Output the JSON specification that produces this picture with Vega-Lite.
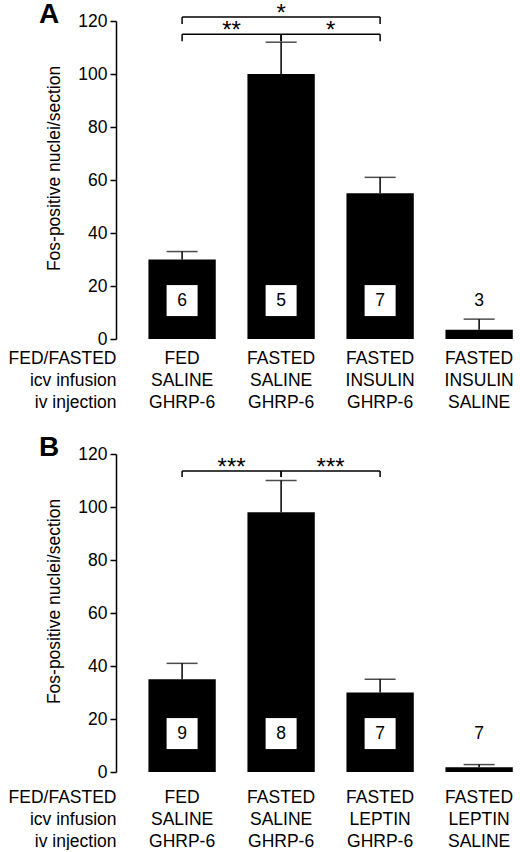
{
  "$schema": "https://vega.github.io/schema/vega-lite/v6.json",
  "padding": {"left": 8, "top": 1, "right": 0, "bottom": 0},
  "autosize": {"type": "pad"},
  "spacing": 115,
  "bounds": "flush",
  "config": {
    "font": "Liberation Sans",
    "view": {"stroke": null},
    "axis": {
      "grid": false,
      "labelColor": "black",
      "titleColor": "black",
      "domainColor": "black",
      "tickColor": "black",
      "labelFontSize": 17.5,
      "titleFontSize": 17.5,
      "titleFontWeight": "normal"
    },
    "title": {"color": "black", "fontSize": 28, "fontWeight": "bold"}
  },
  "datasets": {
    "a_bars": [
      {"group": "FED|SALINE|GHRP-6", "mean": 30, "upper": 33, "n": "6", "boxed": true},
      {"group": "FASTED|SALINE|GHRP-6", "mean": 100, "upper": 112, "n": "5", "boxed": true},
      {"group": "FASTED|INSULIN|GHRP-6", "mean": 55, "upper": 61, "n": "7", "boxed": true},
      {"group": "FASTED|INSULIN|SALINE", "mean": 3.5, "upper": 7.5, "n": "3", "boxed": false}
    ],
    "a_brackets": [
      {"from": "FED|SALINE|GHRP-6", "to": "FASTED|SALINE|GHRP-6", "level": 115, "stars": "**", "span": 1},
      {"from": "FASTED|SALINE|GHRP-6", "to": "FASTED|INSULIN|GHRP-6", "level": 115, "stars": "*", "span": 1},
      {"from": "FED|SALINE|GHRP-6", "to": "FASTED|INSULIN|GHRP-6", "level": 121.5, "stars": "*", "span": 2}
    ],
    "b_bars": [
      {"group": "FED|SALINE|GHRP-6", "mean": 35, "upper": 41, "n": "9", "boxed": true},
      {"group": "FASTED|SALINE|GHRP-6", "mean": 98, "upper": 110, "n": "8", "boxed": true},
      {"group": "FASTED|LEPTIN|GHRP-6", "mean": 30, "upper": 35, "n": "7", "boxed": true},
      {"group": "FASTED|LEPTIN|SALINE", "mean": 1.8, "upper": 2.8, "n": "7", "boxed": false}
    ],
    "b_brackets": [
      {"from": "FED|SALINE|GHRP-6", "to": "FASTED|SALINE|GHRP-6", "level": 113.6, "stars": "***", "span": 1},
      {"from": "FASTED|SALINE|GHRP-6", "to": "FASTED|LEPTIN|GHRP-6", "level": 113.6, "stars": "***", "span": 1}
    ]
  },
  "vconcat": [
    {
      "width": 400,
      "height": 318,
      "title": {"text": "A", "anchor": "start", "frame": "group", "dx": -77, "dy": 31},
      "layer": [
        {
          "data": {"name": "a_bars"},
          "mark": {"type": "bar", "color": "black"},
          "encoding": {
            "x": {
              "field": "group", "type": "nominal",
              "scale": {
                "domain": ["FED|SALINE|GHRP-6", "FASTED|SALINE|GHRP-6", "FASTED|INSULIN|GHRP-6", "FASTED|INSULIN|SALINE"],
                "paddingInner": 0.32, "paddingOuter": 0.18, "align": 0.91
              },
              "axis": {
                "title": ["FED/FASTED", "icv infusion", "iv injection"],
                "labelExpr": "split(datum.label, '|')",
                "labelAngle": 0, "domain": false, "ticks": false, "tickSize": 0,
                "labelPadding": 10, "labelLineHeight": 22, "labelBaseline": "top",
                "labelOverlap": false, "labelBound": false,
                "titleX": 0, "titleY": 10, "titleAlign": "right", "titleBaseline": "top",
                "titleLineHeight": 22
              }
            },
            "y": {
              "field": "mean", "type": "quantitative",
              "scale": {"domain": [0, 120]},
              "axis": {
                "title": "Fos-positive nuclei/section",
                "values": [0, 20, 40, 60, 80, 100, 120],
                "tickSize": 6, "tickWidth": 1.5, "domainWidth": 1.5,
                "labelPadding": 3, "titlePadding": 14, "titleY": 147
              }
            }
          }
        },
        {
          "data": {"name": "a_bars"},
          "mark": {"type": "rule", "color": "black", "strokeWidth": 1.5},
          "encoding": {
            "x": {"field": "group", "type": "nominal"},
            "y": {"field": "mean", "type": "quantitative"},
            "y2": {"field": "upper"}
          }
        },
        {
          "data": {"name": "a_bars"},
          "mark": {"type": "tick", "orient": "horizontal", "color": "black", "size": 31, "thickness": 1.5},
          "encoding": {
            "x": {"field": "group", "type": "nominal"},
            "y": {"field": "upper", "type": "quantitative"}
          }
        },
        {
          "data": {"name": "a_bars"},
          "transform": [{"filter": "datum.boxed"}],
          "mark": {"type": "square", "color": "white", "filled": true, "opacity": 1, "size": 961},
          "encoding": {
            "x": {"field": "group", "type": "nominal"},
            "y": {"datum": 14.5}
          }
        },
        {
          "data": {"name": "a_bars"},
          "mark": {"type": "text", "color": "black", "fontSize": 17.5, "baseline": "middle"},
          "encoding": {
            "x": {"field": "group", "type": "nominal"},
            "y": {"datum": 14.5},
            "text": {"field": "n"}
          }
        },
        {
          "data": {"name": "a_brackets"},
          "mark": {"type": "rule", "color": "black", "strokeWidth": 1.5},
          "encoding": {
            "x": {"field": "from", "type": "nominal"},
            "x2": {"field": "to"},
            "y": {"field": "level", "type": "quantitative"}
          }
        },
        {
          "data": {"name": "a_brackets"},
          "mark": {"type": "rule", "color": "black", "strokeWidth": 1.5, "y2Offset": 7},
          "encoding": {
            "x": {"field": "from", "type": "nominal"},
            "y": {"field": "level", "type": "quantitative"},
            "y2": {"field": "level"}
          }
        },
        {
          "data": {"name": "a_brackets"},
          "mark": {"type": "rule", "color": "black", "strokeWidth": 1.5, "y2Offset": 7},
          "encoding": {
            "x": {"field": "to", "type": "nominal"},
            "y": {"field": "level", "type": "quantitative"},
            "y2": {"field": "level"}
          }
        },
        {
          "data": {"name": "a_brackets"},
          "transform": [{"filter": "datum.span == 1"}],
          "mark": {"type": "text", "color": "black", "fontSize": 24, "baseline": "alphabetic", "dx": 49.5, "dy": 4},
          "encoding": {
            "x": {"field": "from", "type": "nominal"},
            "y": {"field": "level", "type": "quantitative"},
            "text": {"field": "stars"}
          }
        },
        {
          "data": {"name": "a_brackets"},
          "transform": [{"filter": "datum.span == 2"}],
          "mark": {"type": "text", "color": "black", "fontSize": 24, "baseline": "alphabetic", "dx": 99, "dy": 4},
          "encoding": {
            "x": {"field": "from", "type": "nominal"},
            "y": {"field": "level", "type": "quantitative"},
            "text": {"field": "stars"}
          }
        }
      ]
    },
    {
      "width": 400,
      "height": 318,
      "title": {"text": "B", "anchor": "start", "frame": "group", "dx": -77, "dy": 21},
      "layer": [
        {
          "data": {"name": "b_bars"},
          "mark": {"type": "bar", "color": "black"},
          "encoding": {
            "x": {
              "field": "group", "type": "nominal",
              "scale": {
                "domain": ["FED|SALINE|GHRP-6", "FASTED|SALINE|GHRP-6", "FASTED|LEPTIN|GHRP-6", "FASTED|LEPTIN|SALINE"],
                "paddingInner": 0.32, "paddingOuter": 0.18, "align": 0.91
              },
              "axis": {
                "title": ["FED/FASTED", "icv infusion", "iv injection"],
                "labelExpr": "split(datum.label, '|')",
                "labelAngle": 0, "domain": false, "ticks": false, "tickSize": 0,
                "labelPadding": 16, "labelLineHeight": 22, "labelBaseline": "top",
                "labelOverlap": false, "labelBound": false,
                "titleX": 0, "titleY": 16, "titleAlign": "right", "titleBaseline": "top",
                "titleLineHeight": 22
              }
            },
            "y": {
              "field": "mean", "type": "quantitative",
              "scale": {"domain": [0, 120]},
              "axis": {
                "title": "Fos-positive nuclei/section",
                "values": [0, 20, 40, 60, 80, 100, 120],
                "tickSize": 6, "tickWidth": 1.5, "domainWidth": 1.5,
                "labelPadding": 3, "titlePadding": 14, "titleY": 147
              }
            }
          }
        },
        {
          "data": {"name": "b_bars"},
          "mark": {"type": "rule", "color": "black", "strokeWidth": 1.5},
          "encoding": {
            "x": {"field": "group", "type": "nominal"},
            "y": {"field": "mean", "type": "quantitative"},
            "y2": {"field": "upper"}
          }
        },
        {
          "data": {"name": "b_bars"},
          "mark": {"type": "tick", "orient": "horizontal", "color": "black", "size": 31, "thickness": 1.5},
          "encoding": {
            "x": {"field": "group", "type": "nominal"},
            "y": {"field": "upper", "type": "quantitative"}
          }
        },
        {
          "data": {"name": "b_bars"},
          "transform": [{"filter": "datum.boxed"}],
          "mark": {"type": "square", "color": "white", "filled": true, "opacity": 1, "size": 961},
          "encoding": {
            "x": {"field": "group", "type": "nominal"},
            "y": {"datum": 14.5}
          }
        },
        {
          "data": {"name": "b_bars"},
          "mark": {"type": "text", "color": "black", "fontSize": 17.5, "baseline": "middle"},
          "encoding": {
            "x": {"field": "group", "type": "nominal"},
            "y": {"datum": 14.5},
            "text": {"field": "n"}
          }
        },
        {
          "data": {"name": "b_brackets"},
          "mark": {"type": "rule", "color": "black", "strokeWidth": 1.5},
          "encoding": {
            "x": {"field": "from", "type": "nominal"},
            "x2": {"field": "to"},
            "y": {"field": "level", "type": "quantitative"}
          }
        },
        {
          "data": {"name": "b_brackets"},
          "mark": {"type": "rule", "color": "black", "strokeWidth": 1.5, "y2Offset": 6},
          "encoding": {
            "x": {"field": "from", "type": "nominal"},
            "y": {"field": "level", "type": "quantitative"},
            "y2": {"field": "level"}
          }
        },
        {
          "data": {"name": "b_brackets"},
          "mark": {"type": "rule", "color": "black", "strokeWidth": 1.5, "y2Offset": 6},
          "encoding": {
            "x": {"field": "to", "type": "nominal"},
            "y": {"field": "level", "type": "quantitative"},
            "y2": {"field": "level"}
          }
        },
        {
          "data": {"name": "b_brackets"},
          "mark": {"type": "text", "color": "black", "fontSize": 24, "baseline": "alphabetic", "dx": 49.5, "dy": 4},
          "encoding": {
            "x": {"field": "from", "type": "nominal"},
            "y": {"field": "level", "type": "quantitative"},
            "text": {"field": "stars"}
          }
        }
      ]
    }
  ]
}
